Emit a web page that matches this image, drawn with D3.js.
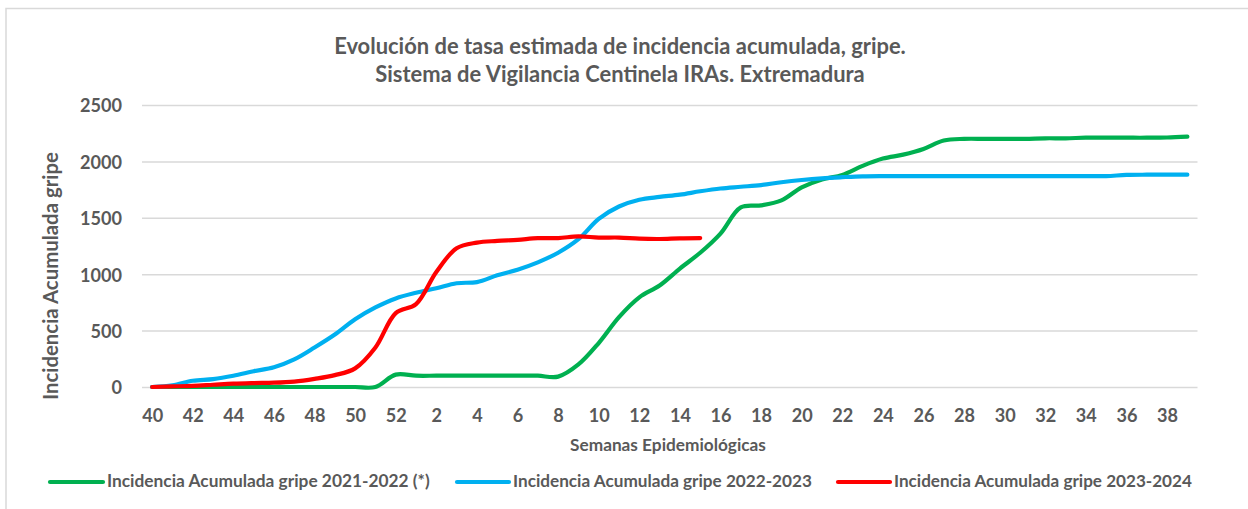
<!DOCTYPE html>
<html>
<head>
<meta charset="utf-8">
<script src="https://cdn.jsdelivr.net/npm/d3@7"></script>
<style>
  html, body { margin: 0; padding: 0; background: #fff; }
  svg { display: block; }
  text { font-family: Lato, "Open Sans", "Liberation Sans", sans-serif; font-weight: bold; fill: #595959; }
</style>
</head>
<body>
<svg id="chart" width="1248" height="509"></svg>
<script>
// ---- Data ----
const weeks = [40,41,42,43,44,45,46,47,48,49,50,51,52,
  1,2,3,4,5,6,7,8,9,10,11,12,13,14,15,16,17,18,19,20,21,22,23,24,25,26,27,28,29,30,31,32,33,34,35,36,37,38,39];
const tickWeeks = [40,42,44,46,48,50,52,2,4,6,8,10,12,14,16,18,20,22,24,26,28,30,32,34,36,38];
const yTicks = [0,500,1000,1500,2000,2500];

const s2122 = [0,0,0,0,0,0,0,0,0,0,0,0,110,
  100,100,100,100,100,100,100,92,200,390,620,795,900,1050,1190,1360,1592,1610,1655,1770,1840,1880,1960,2025,2060,2110,2185,2200,2200,2200,2200,2205,2205,2210,2210,2210,2210,2212,2220];
const s2223 = [0,15,55,70,100,140,175,245,350,465,600,705,785,
  835,875,920,930,990,1040,1105,1190,1310,1490,1600,1660,1685,1705,1735,1760,1775,1790,1815,1835,1850,1860,1868,1870,1870,1870,1870,1870,1870,1870,1870,1870,1870,1870,1870,1880,1882,1882,1882];
const s2324 = [0,5,10,20,30,35,38,48,72,105,165,350,655,
  735,1020,1230,1280,1295,1305,1320,1320,1335,1325,1325,1315,1312,1318,1320];

const seriesNames = ["Incidencia Acumulada gripe 2021-2022 (*)","Incidencia Acumulada gripe 2022-2023","Incidencia Acumulada gripe 2023-2024"];
const seriesColors = ["#00B050","#00B0F0","#FF0000"];
const seriesData = [s2122, s2223, s2324];

const titleLines = ["Evolución de tasa estimada de incidencia acumulada, gripe.","Sistema de Vigilancia Centinela IRAs. Extremadura"];
const xTitle = "Semanas Epidemiológicas";
const yTitle = "Incidencia Acumulada gripe";

// ---- Layout ----
const svg = d3.select("#chart");
const L = 142, R = 1197.5, T = 105, B = 387;

function fit(sel, target) {
  const w = sel.node().getComputedTextLength();
  const fs = parseFloat(sel.attr("font-size"));
  sel.attr("font-size", fs * target / w);
  return sel;
}

svg.append("rect").attr("width",1248).attr("height",509).attr("fill","#fff");
svg.append("rect").attr("x",6).attr("y",8.5).attr("width",1400).attr("height",700)
  .attr("fill","none").attr("stroke","#d9d9d9").attr("stroke-width",1.5);

const x = d3.scalePoint().domain(weeks).range([L, R]).padding(0.5);
const y = d3.scaleLinear().domain([0, 2500]).range([B, T]);

// gridlines
svg.append("g").attr("transform", `translate(${L},0)`)
  .call(d3.axisLeft(y).tickValues(yTicks).tickSize(-(R - L)).tickFormat(""))
  .call(g => g.select(".domain").remove())
  .call(g => g.selectAll("line").attr("stroke","#d9d9d9").attr("stroke-width",1.5));

// y tick labels
const yAx = svg.append("g").attr("transform", `translate(${L},0)`)
  .call(d3.axisLeft(y).tickValues(yTicks).tickSize(0).tickPadding(20).tickFormat(d3.format("d")))
  .call(g => g.select(".domain").remove());
yAx.attr("font-family", null).attr("font-size", null);
yAx.selectAll("text").attr("font-size", 18).attr("fill","#595959").attr("dy","0.38em");
{
  const t = yAx.selectAll("text").filter(d => d === 2500);
  const w = t.node().getComputedTextLength();
  yAx.selectAll("text").attr("font-size", 18 * 42 / w);
}

// x tick labels
const xAx = svg.append("g").attr("transform", `translate(0,${B})`)
  .call(d3.axisBottom(x).tickValues(tickWeeks).tickSize(0))
  .call(g => g.select(".domain").remove());
xAx.attr("font-family", null).attr("font-size", null);
xAx.selectAll("text").attr("y", 35).attr("dy", 0).attr("fill","#595959")
  .attr("font-size", yAx.select("text").attr("font-size"));

// lines
const line = d3.line()
  .x((d, i) => x(weeks[i]))
  .y(d => y(d))
  .curve(d3.curveCatmullRom.alpha(0.5));

seriesData.forEach((data, k) => {
  svg.append("path").datum(data)
    .attr("d", line)
    .attr("fill","none")
    .attr("stroke", seriesColors[k])
    .attr("stroke-width", 4.2)
    .attr("stroke-linecap","round")
    .attr("stroke-linejoin","round");
});

// titles
const t1 = svg.append("text").attr("x", 620).attr("y", 54).attr("text-anchor","middle")
  .attr("font-size", 18).text(titleLines[0]);
fit(t1, 572);
svg.append("text").attr("x", 620).attr("y", 82).attr("text-anchor","middle")
  .attr("font-size", t1.attr("font-size")).text(titleLines[1]);

const xt = svg.append("text").attr("x", 668).attr("y", 451).attr("text-anchor","middle")
  .attr("font-size", 15).text(xTitle);
fit(xt, 196);

const yt = svg.append("text").attr("transform","translate(58,276) rotate(-90)")
  .attr("text-anchor","middle").attr("font-size", 17).text(yTitle);
fit(yt, 248);

// legend
const legend = [
  {x1: 50, x2: 103, tx: 107, tw: 323},
  {x1: 457, x2: 509, tx: 513, tw: 299},
  {x1: 838, x2: 890, tx: 894, tw: 298}
];
legend.forEach((p, k) => {
  svg.append("line").attr("x1", p.x1).attr("x2", p.x2).attr("y1", 482).attr("y2", 482)
    .attr("stroke", seriesColors[k]).attr("stroke-width", 4.2).attr("stroke-linecap","round");
  const t = svg.append("text").attr("x", p.tx).attr("y", 487).attr("font-size", 15).text(seriesNames[k]);
  fit(t, p.tw);
});
</script>
</body>
</html>
